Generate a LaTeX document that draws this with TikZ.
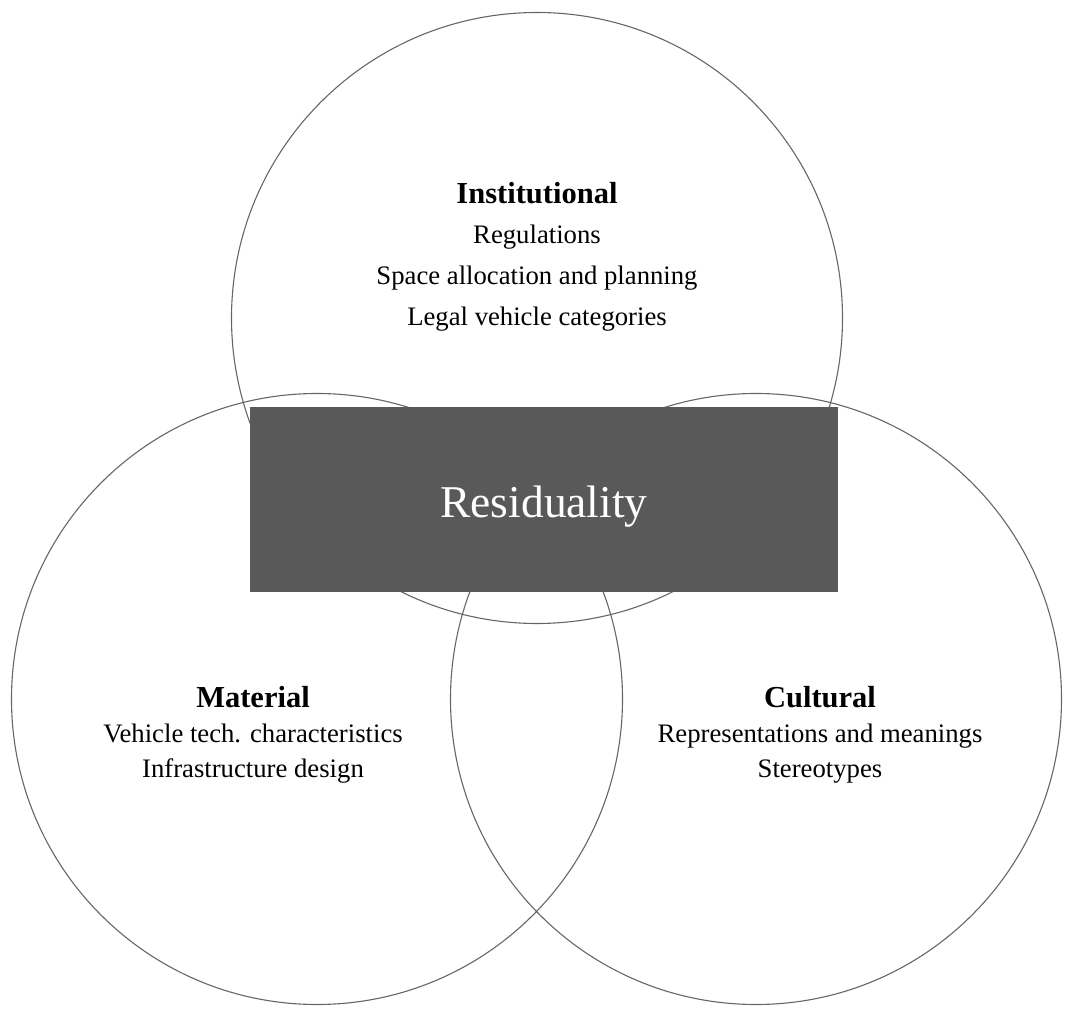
\documentclass[tikz,border=0pt]{standalone}
\usepackage{fontspec}
\setmainfont{Liberation Serif}
\usepackage{xcolor}
\usetikzlibrary{positioning}
\definecolor{boxgray}{HTML}{595959}

\begin{document}
\begin{tikzpicture}[x=1pt, y=-1pt,
    ring/.style={circle, draw=black!60, line width=1.1pt, minimum size=611pt, inner sep=0pt},
    head/.style={anchor=base, font=\fontsize{30.5}{34}\selectfont\bfseries},
    item/.style={anchor=base, font=\fontsize{26.7}{30}\selectfont}]
  \useasboundingbox (0,0) rectangle (1072,1016);
  % the three circles
  \node[ring] (inst) at (537,318) {};
  \node[ring] (mat) at (317,699) {};
  \node[ring] (cult) at (756,699) {};
  % box in the middle
  \node[fill=boxgray, minimum width=588pt, minimum height=185pt, inner sep=0pt] (resid) at (544,499.5) {};
  \node[anchor=base, text=white, font=\fontsize{45.5}{50}\selectfont] (residtxt)
    at ([yshift=-17.5pt]resid.center) {Residuality};
  % labels of each circle
  \node[head] (insthead) at (537,204) {Institutional};
  \foreach \y/\txt [count=\i] in {244/Regulations, 284.5/Space allocation and planning, 326/Legal vehicle categories}
    \node[item] (inst\i) at (537,\y) {\txt};
  \node[head] (mathead) at (253,707) {Material};
  \foreach \y/\txt [count=\i] in {742.5/Vehicle tech. characteristics, 777/Infrastructure design}
    \node[item] (mat\i) at (253,\y) {\txt};
  \node[head] (culthead) at (820,707) {Cultural};
  \foreach \y/\txt [count=\i] in {742.5/Representations and meanings, 777/Stereotypes}
    \node[item] (cult\i) at (820,\y) {\txt};
\end{tikzpicture}
\end{document}
